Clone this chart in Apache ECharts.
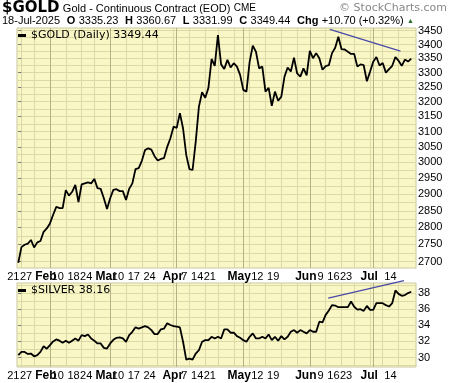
<!DOCTYPE html>
<html><head><meta charset="utf-8">
<script src="https://cdn.jsdelivr.net/npm/echarts@6/dist/echarts.min.js"></script>
<style>html,body{margin:0;padding:0;background:#fff}#c{width:460px;height:383px}</style>
</head><body><div id="c"></div>
<script>
const months = ['Jan','Feb','Mar','Apr','May','Jun','Jul'];
const tradingDays = [
 [17,21,22,23,24,27,28,29,30,31],
 [3,4,5,6,7,10,11,12,13,14,18,19,20,21,24,25,26,27,28],
 [3,4,5,6,7,10,11,12,13,14,17,18,19,20,21,24,25,26,27,28,31],
 [1,2,3,4,7,8,9,10,11,14,15,16,17,21,22,23,24,25,28,29,30],
 [1,2,5,6,7,8,9,12,13,14,15,16,19,20,21,22,23,27,28,29,30],
 [2,3,4,5,6,9,10,11,12,13,16,17,18,20,23,24,25,26,27,30],
 [1,2,3,7,8,9,10,11,14,15,16,17,18]
];
const dates = [];
months.forEach((m, mi) => tradingDays[mi].forEach(d => dates.push(m + ' ' + d)));

const gold = [
 2697,2742,2749,2752,2763,2741,2756,2760,2787,2797,
 2812,2838,2862,2858,2858,2913,2896,2908,2929,2876,
 2931,2934,2937,2934,2948,2919,2917,2888,2855,2888,
 2914,2916,2910,2910,2883,2917,2934,2979,2982,3005,
 3040,3045,3041,3020,3006,3011,3014,3050,3078,3116,
 3112,3161,3110,3024,2979,2976,3067,3183,3232,3213,
 3247,3348,3324,3434,3329,3313,3345,3318,3333,3321,
 3292,3240,3234,3338,3396,3374,3315,3321,3234,3247,
 3186,3234,3203,3217,3286,3318,3304,3353,3297,3286,
 3315,3290,3377,3351,3369,3351,3310,3323,3326,3369,
 3388,3428,3383,3382,3374,3366,3366,3321,3329,3326,
 3270,3303,3338,3355,3325,3334,3300,3312,3324,3355,
 3342,3324,3346,3339,3349.44
];
const silver = [
 30.3,30.7,30.7,30.45,30.5,30.16,30.3,30.7,31.4,31.1,
 31.54,32.0,32.25,32.1,31.83,32.1,31.83,32.1,32.37,32.1,
 32.79,32.66,32.87,32.37,32.1,31.75,31.75,31.2,31.12,31.75,
 32.2,32.45,32.5,32.37,31.96,32.79,33.2,33.75,33.6,33.75,
 33.91,33.75,33.41,32.91,32.91,33.5,33.6,34.25,34.04,33.91,
 33.83,33.75,31.96,29.75,29.87,29.75,30.5,30.91,31.96,32.16,
 32.16,32.58,32.37,32.58,32.37,33.5,33.5,33.08,33.08,32.66,
 32.45,32.16,31.96,32.58,33.0,32.37,32.37,32.58,32.37,32.87,
 32.16,32.58,32.08,32.66,32.25,32.58,33.2,33.41,33.08,33.41,
 33.2,33.0,33.41,33.2,33.2,34.45,34.37,35.3,35.83,36.5,
 36.45,36.25,36.25,36.25,36.25,36.95,36.3,35.95,36.0,35.79,
 36.41,35.91,35.91,36.75,36.75,36.75,36.5,36.33,36.75,38.33,
 37.9,37.66,37.75,38.0,38.16
];
const goldTicks = [2700,2750,2800,2850,2900,2950,3000,3050,3100,3150,3200,3250,3300,3350,3400,3450];
const silverTicks = [30,32,34,36,38];
const monthLabelDates = ['Feb 3','Mar 3','Apr 1','May 1','Jun 2','Jul 1'];
const dayLabelDates = ['Jan 21','Jan 27','Feb 10','Feb 18','Feb 24','Mar 10','Mar 17','Mar 24','Apr 7','Apr 14','Apr 21','May 12','May 19','Jun 9','Jun 16','Jun 23','Jul 14'];
// trend lines: [trading-day position, price]
const goldTrend = [[98.3, 3455], [120.6, 3376]];
const silverTrend = [[97.8, 37.38], [121.7, 39.54]];
const header = {date:'18-Jul-2025', open:3335.23, high:3360.67, low:3331.99, close:3349.44, chg:10.70, chgPct:0.32};

const N = dates.length;
const dObj = i => { const [m, d] = dates[i].split(' '); return new Date(2025, months.indexOf(m), +d); };
const weekStarts = [], monthStarts = [];
for (let i = 1; i < N; i++) {
  const a = dObj(i - 1), b = dObj(i);
  if (b.getMonth() !== a.getMonth()) monthStarts.push(i);
  if (b.getDay() < a.getDay() || (b - a) > 3 * 86400000) weekStarts.push(i);
}
const monthIdx = monthLabelDates.map(s => dates.indexOf(s));
const dayIdx = dayLabelDates.map(s => dates.indexOf(s));
const goldMinor = goldTicks.slice(0, -1).map((t, i) => (t + goldTicks[i + 1]) / 2);
const silverMinor = [];
for (let v = 29; v <= 39; v++) silverMinor.push(v);

const BG = '#f9f7c6', GRIDC = '#dcd9a6', MONTHC = '#b5b28a', TREND = '#4848a8';
const FONT = 'Liberation Sans';
const XMIN = -0.4, XMAX = N + 0.5;

function xAxes(grid) {
  return [
    { type:'value', gridIndex:grid, min:XMIN, max:XMAX, position:'bottom',
      axisLine:{show:false}, axisTick:{show:false, customValues:weekStarts},
      splitLine:{show:true, lineStyle:{color:GRIDC, width:1}},
      axisLabel:{customValues:dayIdx, margin:3, align:'right', color:'#000',
        formatter: v => '{d|' + dates[Math.round(v)].split(' ')[1] + '}',
        rich:{d:{fontFamily:FONT, fontSize:11, color:'#000', padding:[0,2,0,0]}}} },
    { type:'value', gridIndex:grid, min:XMIN, max:XMAX, position:'bottom',
      axisLine:{show:false}, axisTick:{show:false, customValues:monthStarts},
      splitLine:{show:true, lineStyle:{color:MONTHC, width:1}},
      axisLabel:{customValues:monthIdx, margin:3, align:'center', color:'#000',
        formatter: v => '{m|' + dates[Math.round(v)].split(' ')[0] + '}',
        rich:{m:{fontFamily:FONT, fontSize:12, fontWeight:'bold', color:'#000', padding:[0,8,0,0]}}} }
  ];
}

const goldName = '$GOLD (Daily) ' + gold[N - 1].toFixed(2);
const silverName = '$SILVER ' + silver[N - 1].toFixed(2);

const option = {
  animation:false,
  backgroundColor:'#fff',
  grid:[
    {left:17, top:28, right:44, height:240, show:true, backgroundColor:BG, borderColor:'#c9c7a2', borderWidth:1, outerBoundsMode:'none'},
    {left:17, top:283, right:44, height:84, show:true, backgroundColor:BG, borderColor:'#c9c7a2', borderWidth:1, outerBoundsMode:'none'}
  ],
  xAxis:[...xAxes(0), ...xAxes(1)],
  yAxis:[
    { type:'log', logBase:10, gridIndex:0, position:'right', min:2682, max:3460,
      axisLine:{show:false}, axisTick:{show:true, length:3, lineStyle:{color:'#777'}, customValues:goldTicks},
      axisLabel:{customValues:goldTicks, margin:2, fontFamily:FONT, fontSize:11, color:'#000', formatter:v => String(Math.round(v))},
      splitLine:{show:true, lineStyle:{color:GRIDC}} },
    { type:'log', logBase:10, gridIndex:0, position:'right', min:2682, max:3460,
      axisLine:{show:false}, axisTick:{show:false, customValues:goldMinor}, axisLabel:{show:false},
      splitLine:{show:true, lineStyle:{color:GRIDC}} },
    { type:'value', gridIndex:1, position:'right', min:28.83, max:39.25,
      axisLine:{show:false}, axisTick:{show:true, length:3, lineStyle:{color:'#777'}, customValues:silverTicks},
      axisLabel:{customValues:silverTicks, margin:2, fontFamily:FONT, fontSize:11, color:'#000', formatter:v => String(Math.round(v))},
      splitLine:{show:true, lineStyle:{color:GRIDC}} },
    { type:'value', gridIndex:1, position:'right', min:28.83, max:39.25,
      axisLine:{show:false}, axisTick:{show:false, customValues:silverMinor}, axisLabel:{show:false},
      splitLine:{show:true, lineStyle:{color:GRIDC}} }
  ],
  legend:[
    {data:[goldName], left:18, top:30, padding:0, icon:'rect', itemWidth:8, itemHeight:3, selectedMode:false,
     textStyle:{fontFamily:'DejaVu Sans', fontSize:11, color:'#000'}},
    {data:[silverName], left:18, top:285, padding:0, icon:'rect', itemWidth:8, itemHeight:3, selectedMode:false,
     textStyle:{fontFamily:'DejaVu Sans', fontSize:11, color:'#000'}}
  ],
  graphic:[
    {type:'text', left:2, top:1, style:{
      text:'{a|$GOLD} {b|Gold - Continuous Contract (EOD)} {c|CME}',
      rich:{a:{fontFamily:'DejaVu Sans', fontWeight:'bold', fontSize:15, fill:'#000'},
            b:{fontFamily:FONT, fontSize:11, fill:'#000'},
            c:{fontFamily:FONT, fontSize:10, fill:'#000'}}}},
    {type:'text', right:13, top:3, style:{text:'\u00A9 StockCharts.com', fontFamily:'DejaVu Sans', fontSize:11, fill:'#888'}},
    {type:'text', left:2, top:15, style:{
      text:'{n|' + header.date + '}  {k|O} {n|' + header.open.toFixed(2) + '}  {k|H} {n|' + header.high.toFixed(2) +
        '}  {k|L} {n|' + header.low.toFixed(2) + '}  {k|C} {n|' + header.close.toFixed(2) + '}  {k|Chg} {n|+' +
        header.chg.toFixed(2) + ' (+' + header.chgPct.toFixed(2) + '%)} {t|\u25B2}',
      rich:{n:{fontFamily:FONT, fontSize:11, fill:'#000'},
            k:{fontFamily:FONT, fontSize:11, fontWeight:'bold', fill:'#000'},
            t:{fontFamily:FONT, fontSize:7, fill:'#2a6a2a'}}}}
  ],
  series:[
    {type:'line', name:goldName, xAxisIndex:0, yAxisIndex:0, data:gold.map((v, i) => [i, v]),
     symbol:'none', lineStyle:{color:'#000', width:1.8}, itemStyle:{color:'#000'}, z:5},
    {type:'line', xAxisIndex:0, yAxisIndex:0, data:goldTrend, symbol:'none', clip:false, silent:true,
     lineStyle:{color:TREND, width:1.2}, z:4},
    {type:'line', name:silverName, xAxisIndex:2, yAxisIndex:2, data:silver.map((v, i) => [i, v]),
     symbol:'none', lineStyle:{color:'#000', width:1.8}, itemStyle:{color:'#000'}, z:5},
    {type:'line', xAxisIndex:2, yAxisIndex:2, data:silverTrend, symbol:'none', clip:false, silent:true,
     lineStyle:{color:TREND, width:1.2}, z:4}
  ]
};
const chart = echarts.init(document.getElementById('c'), null, {renderer:'canvas'});
chart.setOption(option);
</script></body></html>
